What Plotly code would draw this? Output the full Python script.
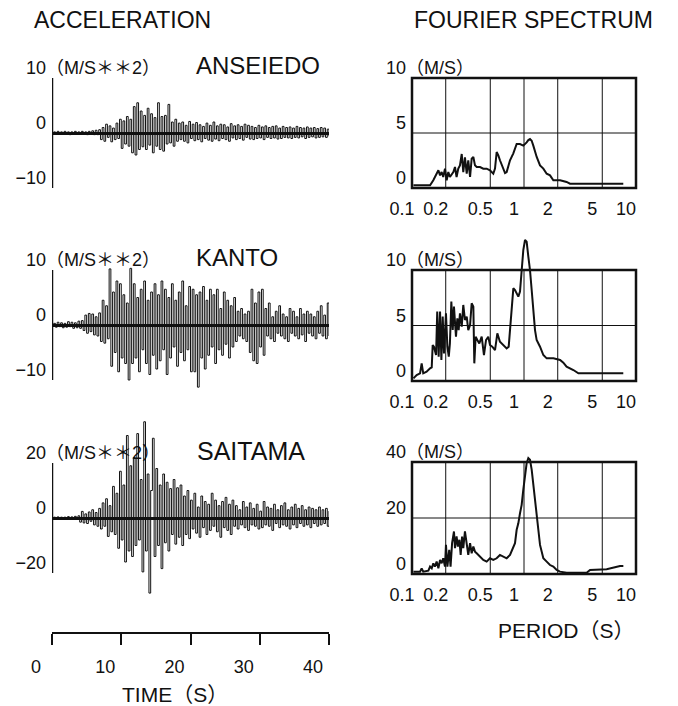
import numpy as np
import plotly.graph_objects as go

W, H = 678, 706
OFF = 8  # the page body has an 8 px margin; positions below are in screen pixels
FONT = "Liberation Sans, Arial, 'Noto Sans CJK JP', sans-serif"
INK = "#111111"

# ---------------- data ----------------
stations = ["ANSEIEDO", "KANTO", "SAITAMA"]
dt = 0.25  # s, sampling step of the digitised records

acc_anseiedo = [
    0.0, 0.2, -0.1, 0.3, -0.2, 0.2, -0.1, 0.3, -0.2, 0.2, -0.3, 0.2, -0.1, 0.3,
    -0.2, 0.2, -0.2, 0.3, -0.1, 0.2, -0.3, 0.3, -0.2, 0.4, -0.3, 0.5, -0.3, 0.6,
    -1.2, 1.0, -1.5, 1.6, -0.8, 1.3, -1.6, 0.9, -1.2, 1.8, -1.0, 2.5, -2.8,
    2.2, -2.0, 3.0, -2.4, 2.5, -3.6, 4.8, -4.0, 5.5, -3.0,
    4.0, -2.5, 3.2, -3.0, 4.5, -2.2, 3.5, -3.6, 2.8, -2.4,
    5.5, -3.0, 3.0, -3.3, 3.2, -2.0, 5.2, -1.8, 2.0, -2.4, 2.5, -1.5,
    1.8, -1.2, 2.0, -1.5, 1.4, -1.8, 2.1, -1.0, 1.6, -1.4,
    1.9, -1.2, 1.5, -1.6, 1.2, -1.0, 1.8, -1.3, 1.4, -1.5,
    2.0, -1.1, 1.3, -1.4, 1.6, -1.0, 1.5, -1.2, 1.1, -1.5,
    1.7, -0.9, 1.3, -1.2, 1.5, -1.0, 1.2, -1.3, 1.6, -0.8,
    1.4, -1.1, 1.2, -1.2, 1.0, -1.0, 1.4, -0.9, 1.1, -1.2,
    1.3, -0.8, 1.0, -1.0, 1.2, -0.9, 1.3, -1.1, 0.9, -1.0,
    1.2, -0.8, 1.0, -0.9, 1.1, -1.0, 0.9, -0.8, 1.2, -0.9,
    1.0, -0.7, 0.9, -1.0, 1.1, -0.8, 0.9, -0.7, 1.0, -0.9,
    0.8, -0.8, 1.0, -0.7, 0.9, -0.8, 0.7, -0.6,
]

acc_kanto = [
    0.0, 0.3, -0.4, 0.5, -0.3, 0.4, -0.5, 0.3, -0.4, 0.6, -0.3, 0.5, -0.6, 0.4,
    -0.5, 0.7, -0.6, 0.8,
    -1.0, 1.8, -1.5, 2.1, -1.2, 2.0, -1.8, 1.5, -2.0, 2.2,
    -3.0, 4.5, -3.3, 3.5, -2.5,
    10.2,
    -7.5, 6.0, -5.0, 8.0, -8.5, 7.5, -6.0, 5.5, -7.0, 4.0, -10.0, 10.3, -7.0,
    7.5, -6.0, 5.0, -8.5, 6.5, -4.5, 8.0, -7.0, 4.5, -9.0, 6.0, -5.5, 7.5, -8.0,
    5.5, -6.5, 8.0, -4.5, 6.5, -9.0, 5.0, -6.0, 7.5, -4.0,
    4.5, -7.5, 6.0, -5.0, 8.0, -6.5, 3.5, -4.5, 7.0, -8.5,
    6.5, -8.5, 5.5, -11.3, 6.0, -6.0, 7.0, -8.0, 4.5, -5.5,
    6.5, -4.0, 5.5, -7.0, 6.5, -4.5, 3.0, -5.5, 6.0, -3.5, 4.5, -6.0, 3.5, -4.0,
    5.0, -3.0, 2.5, -2.0, 3.0, -2.5, 2.0, -3.0,
    2.5, -5.0, 6.5, -6.5, 4.0, -7.0, 6.0, -4.0, 6.5,
    -5.5, 3.0, -2.0, 4.0, -2.5, 1.5, -3.0, 2.5, -1.5, 3.5,
    -2.0, 2.0, -2.5, 1.5, -3.0, 3.0, -1.5, 2.5, -2.0, 1.5,
    -2.5, 3.0, -1.8, 2.0, -3.0, 2.5, -1.5, 2.0, -2.0, 1.5,
    -2.5, 2.5, -1.5, 3.5, -2.0, 1.8, -2.5, 4.0, -2.0,
]

acc_saitama = [
    0.0, 0.3, -0.3, 0.4, -0.2, 0.3, -0.4, 0.3, -0.3, 0.5, -0.3, 0.4, -0.5, 0.6,
    -0.4, 0.8,
    -1.5, 2.4, -1.8, 1.5, -2.0, 2.2, -1.2, 3.0, -2.5, 2.0, -3.0, 3.5,
    -4.0, 5.5, -3.0, 7.0, -6.7, 4.5, -5.0, 11.5, -6.0,
    9.0, -11.0, 17.0, -8.0, 12.0, -16.0, 30.0, -12.0, 19.0, -14.0, 22.0, -10.0,
    30.7, -8.0, 14.0, -19.6, 35.0, -12.0, 16.0, -27.3, 10.0, 29.0, -14.0, 18.0,
    -10.0, 12.0, -18.4, 16.0,
    -9.0, 13.0, -12.0, 10.7, -6.0, 14.0, -9.5, 11.0, -7.0, 12.0, -10.0, 8.0,
    -6.0, 10.0,
    -7.5, 6.5, -4.0, 9.0, -5.5, 4.0, -7.0, 8.0, -3.5, 6.0, -6.0, 5.0, -4.5,
    9.0, -3.0, 6.5, -5.0, 4.5, -7.0, 6.0, -3.5, 7.5, -4.5, 5.0, -6.0, 6.5,
    -3.0, 4.5, -4.0, 3.0, -2.5, 6.0, -3.5, 4.0, -4.5, 5.5,
    -2.5, 3.5, -3.0, 5.0, -4.0, 2.5, -3.5, 6.0, -2.5, 4.0,
    -3.0, 3.5, -4.5, 5.0, -2.0, 3.0, -3.5, 4.5, -2.5, 5.5,
    -3.0, 3.0, -4.0, 4.0, -2.5, 5.0, -3.5, 3.5, -2.0, 4.5,
    -3.0, 3.0, -2.5, 4.0, -3.5, 3.5, -2.0, 3.0, -3.0, 4.0,
    -2.5, 3.0, -2.0, 3.5, -3.0, 2.5,
]

per_anseiedo = [0.103, 0.145, 0.155, 0.166, 0.172, 0.178, 0.184, 0.19, 0.197, 0.204,
                0.211, 0.218, 0.234, 0.242, 0.25, 0.259, 0.268, 0.278, 0.287, 0.297,
                0.308, 0.318, 0.33, 0.341, 0.353, 0.365, 0.378, 0.405, 0.433, 0.464,
                0.497, 0.532, 0.551, 0.57, 0.59, 0.61, 0.632, 0.654, 0.677, 0.70,
                0.725, 0.75, 0.803, 0.86, 0.92, 0.986, 1.056, 1.093, 1.131, 1.171,
                1.211, 1.254, 1.298, 1.39, 1.488, 1.594, 1.707, 1.828, 2.1, 2.4,
                2.575, 4.16, 7.7]
fs_anseiedo = [0.24, 0.24, 0.70, 1.30, 1.61, 1.15, 1.45, 1.00, 1.76, 0.70,
               1.45, 1.00, 1.45, 1.91, 1.00, 1.76, 2.06, 3.09, 1.45, 2.79,
               1.30, 2.52, 1.00, 2.67, 2.82, 2.06, 1.91, 1.91, 1.76, 1.76,
               1.61, 1.30, 1.76, 3.27, 2.97, 2.52, 2.06, 1.76, 1.36, 1.45,
               1.91, 2.52, 3.15, 4.0, 4.0, 3.85, 4.15, 4.36, 4.45, 4.30,
               3.85, 3.27, 2.82, 2.06, 1.76, 1.30, 1.15, 0.70, 0.70, 0.55,
               0.39, 0.39, 0.39]

per_kanto = [0.103, 0.110, 0.118, 0.122, 0.126, 0.135, 0.145, 0.150, 0.153, 0.157,
             0.164, 0.168, 0.173, 0.178, 0.183, 0.188, 0.193, 0.201, 0.207, 0.213,
             0.218, 0.2245, 0.231, 0.237, 0.247, 0.254, 0.261, 0.268, 0.278, 0.287,
             0.297, 0.308, 0.318, 0.33, 0.341, 0.353, 0.360, 0.370, 0.383, 0.399,
             0.419, 0.439, 0.458, 0.480, 0.497, 0.521, 0.551, 0.578, 0.61, 0.654,
             0.70, 0.73, 0.75, 0.776, 0.803, 0.831, 0.86, 0.89, 0.921, 0.953,
             0.986, 1.021, 1.056, 1.093, 1.131, 1.171, 1.211, 1.254, 1.297, 1.39,
             1.488, 1.594, 1.83, 2.10, 2.245, 2.40, 2.76, 3.06, 7.7]
fs_kanto = [0.24, 0.54, 0.69, 1.59, 0.69, 0.84, 1.14, 1.23, 3.24, 3.09,
            2.34, 6.25, 2.19, 6.25, 1.89, 5.80, 2.49, 6.10, 3.09, 2.19,
            3.39, 7.15, 4.59, 6.70, 3.99, 5.65, 4.59, 6.10, 4.89, 6.85,
            5.50, 5.80, 4.59, 5.05, 7.00, 6.70, 1.59, 3.99, 3.69, 3.39,
            3.99, 2.34, 3.69, 3.99, 3.24, 3.09, 2.79, 4.29, 3.54, 3.24,
            2.94, 3.09, 4.59, 6.10, 8.35, 8.20, 7.90, 7.60, 8.05, 9.70,
            11.8, 12.7, 12.55, 11.2, 10.0, 8.20, 6.40, 4.59, 3.69, 3.09,
            2.34, 2.04, 2.04, 1.89, 1.65, 1.29, 0.99, 0.69, 0.69]

per_saitama = [0.103, 0.118, 0.122, 0.126, 0.140, 0.145, 0.150, 0.155, 0.160, 0.166,
               0.172, 0.178, 0.184, 0.19, 0.197, 0.201, 0.207, 0.215, 0.221, 0.228,
               0.237, 0.242, 0.25, 0.257, 0.265, 0.272, 0.28, 0.287, 0.297, 0.308,
               0.318, 0.33, 0.341, 0.353, 0.365, 0.378, 0.391, 0.405, 0.433, 0.464,
               0.497, 0.532, 0.57, 0.61, 0.654, 0.70, 0.75, 0.803, 0.831, 0.86,
               0.89, 0.921, 0.953, 0.986, 1.021, 1.056, 1.093, 1.131, 1.171, 1.211,
               1.254, 1.297, 1.343, 1.39, 1.438, 1.488, 1.594, 1.707, 1.828, 1.957,
               2.096, 2.404, 3.626, 3.885, 5.47, 6.28, 7.20, 7.71]
fs_saitama = [0.84, 0.84, 2.03, 0.84, 1.19, 2.63, 2.03, 3.82, 2.63, 4.42,
              2.03, 5.01, 3.82, 5.61, 2.63, 10.4, 2.63, 8.6, 2.63, 11.0,
              15.2, 9.2, 13.4, 9.8, 12.2, 6.8, 13.4, 9.2, 15.2, 11.0,
              6.8, 11.0, 7.4, 9.8, 8.0, 7.4, 6.8, 6.2, 5.01, 4.42,
              5.61, 5.01, 5.61, 6.8, 6.2, 5.61, 6.8, 9.2, 11.0, 15.8,
              18.1, 21.7, 24.7, 30.1, 36.1, 39.6, 41.4, 40.8, 37.3, 32.5,
              27.7, 21.7, 15.8, 10.4, 7.4, 5.61, 4.42, 3.2, 2.63, 1.43,
              0.84, 0.48, 0.48, 1.43, 1.67, 2.39, 2.87, 2.87]

acc_ticks = [[-10, 0, 10], [-10, 0, 10], [-20, 0, 20]]
acc_ticktext = [["\u221210", "0", "10"], ["\u221210", "0", "10"], ["\u221220", "0", "20"]]
acc_unit = "\uff08M/S\uff0a\uff0a2\uff09"
fs_ticks = [[0, 5, 10], [0, 5, 10], [0, 20, 40]]
fs_ticktext = [["0", "5", "10"], ["0", "5", "10"], ["0", "20", "40"]]
fs_unit = "\uff08M/S\uff09"
time_ticks = [0, 10, 20, 30, 40]
period_ticks = [0.1, 0.2, 0.5, 1, 2, 5, 10]
period_ticktext = ["0.1", "0.2", "0.5", "1", "2", "5", "10"]
period_grid = [0.2, 0.5, 1, 2, 5]

acc_series = [acc_anseiedo, acc_kanto, acc_saitama]
fs_series = [(per_anseiedo, fs_anseiedo), (per_kanto, fs_kanto), (per_saitama, fs_saitama)]

# ---------------- layout geometry (screen pixels) ----------------
def py(p):
    return 1 - (p - OFF) / H

def pxx(p):
    return (p - OFF) / W

left_x = [52, 329]
right_x = [412, 636]
acc_base = [133, 325, 518]          # pixel of zero line
acc_half = [70, 70, 105]            # half-height of plotting area
acc_ppu = [5.5, 5.5, 2.75]          # pixels per unit
fs_box = [(78, 188), (270, 381), (462, 574)]
fs_dom = [(70, 196), (230, 389), (448, 582)]
time_axis_y = 633

fig = go.Figure()
layout = dict(
    width=W, height=H, margin=dict(l=0, r=0, t=0, b=0, autoexpand=False),
    paper_bgcolor="white", plot_bgcolor="rgba(0,0,0,0)",
    showlegend=False, font=dict(family=FONT, color=INK, size=18),
)
shapes = []
annotations = []

for i in range(3):
    xa = "x" if i == 0 else f"x{i+1}"
    ya = "y" if i == 0 else f"y{i+1}"
    vals = acc_series[i]
    t = np.arange(len(vals)) * dt
    fig.add_trace(go.Scatter(x=t, y=vals, mode="lines", line_shape="hv",
                             line=dict(color=INK, width=1), xaxis=xa, yaxis=ya,
                             hoverinfo="skip"))
    A = acc_half[i] / acc_ppu[i]
    xkey = "xaxis" if i == 0 else f"xaxis{i+1}"
    ykey = "yaxis" if i == 0 else f"yaxis{i+1}"
    xa_cfg = dict(domain=[pxx(left_x[0]), pxx(left_x[1])], range=[0, 40],
                  showgrid=False, zeroline=False, automargin=False)
    if i < 2:
        xa_cfg.update(visible=False, anchor=ya)
    else:
        xa_cfg.update(anchor="free", position=py(time_axis_y), showline=True,
                      linewidth=2, linecolor=INK, ticks="outside", ticklen=11,
                      tickwidth=1.5, tickcolor=INK, tickvals=time_ticks,
                      ticklabelshift=-16, ticklabelstandoff=6,
                      tickfont=dict(size=18))
    layout[xkey] = xa_cfg
    # lower ticks as axis labels, the top one is written together with the unit
    layout[ykey] = dict(
        domain=[py(acc_base[i] + acc_half[i]), py(acc_base[i] - acc_half[i])],
        range=[-A, A], anchor=xa, showgrid=False, zeroline=True,
        zerolinewidth=3, zerolinecolor=INK, showline=False, ticks="",
        tickvals=acc_ticks[i][:-1], ticktext=acc_ticktext[i][:-1], ticklabelshift=-10,
        ticklabelstandoff=5, tickfont=dict(size=18), automargin=False,
    )
    amax = acc_ticks[i][-1]
    shapes.append(dict(type="line", xref=xa, yref=ya, x0=0, x1=0, y0=-amax, y1=amax,
                       line=dict(color=INK, width=2.5), layer="above"))
    annotations.append(dict(text=acc_ticktext[i][-1] + acc_unit, xref="paper", yref=ya,
                            x=pxx(24), y=amax, yshift=10, xanchor="left",
                            yanchor="middle", showarrow=False, font=dict(size=18)))

# spectra
for i in range(3):
    n = i + 4
    xa, ya = f"x{n}", f"y{n}"
    per, amp = fs_series[i]
    fig.add_trace(go.Scatter(x=per, y=amp, mode="lines",
                             line=dict(color=INK, width=2), xaxis=xa, yaxis=ya,
                             hoverinfo="skip"))
    top, bot = fs_box[i]
    dtop, dbot = fs_dom[i]
    ymax = fs_ticks[i][-1]
    ppu = (bot - top) / ymax
    layout[f"xaxis{n}"] = dict(
        type="log", domain=[pxx(right_x[0]), pxx(right_x[1])], range=[-1, 1],
        anchor="free", position=py(bot), showgrid=False, zeroline=False,
        showline=False, ticks="", tickvals=period_ticks, ticktext=period_ticktext,
        ticklabelshift=-10, ticklabelstandoff=8, tickfont=dict(size=18),
        automargin=False)
    layout[f"yaxis{n}"] = dict(
        domain=[py(dbot), py(dtop)], range=[(bot - dbot) / ppu, (bot - dtop) / ppu],
        anchor=xa, showgrid=False, zeroline=False, showline=False, ticks="",
        tickvals=fs_ticks[i][:-1], ticktext=fs_ticktext[i][:-1], ticklabelshift=-10,
        ticklabelstandoff=5, tickfont=dict(size=18), automargin=False)
    for g in period_grid:
        shapes.append(dict(type="line", xref=xa, yref=ya, x0=g, x1=g, y0=0, y1=ymax,
                           line=dict(color=INK, width=1), layer="below"))
    shapes.append(dict(type="line", xref=f"{xa} domain", yref=ya, x0=0, x1=1,
                       y0=fs_ticks[i][1], y1=fs_ticks[i][1],
                       line=dict(color=INK, width=1), layer="below"))
    shapes.append(dict(type="rect", xref=f"{xa} domain", yref=ya, x0=0, x1=1,
                       y0=0, y1=ymax, line=dict(color=INK, width=2.5), layer="above"))
    annotations.append(dict(text=fs_ticktext[i][-1] + fs_unit, xref="paper", yref=ya,
                            x=pxx(384), y=ymax, yshift=10, xanchor="left",
                            yanchor="middle", showarrow=False, font=dict(size=18)))

# titles
title_specs = [
    ("ACCELERATION", 122, 20, 23),
    ("FOURIER SPECTRUM", 533, 20, 23),
    ("ANSEIEDO", 258, 65, 24),
    ("KANTO", 237, 258, 24),
    ("SAITAMA", 251, 451, 25),
    ("TIME\uff08S\uff09", 175, 694, 21),
    ("PERIOD\uff08S\uff09", 566, 630, 21),
]
for txt, x, y, s in title_specs:
    annotations.append(dict(text=txt, xref="paper", yref="paper", x=pxx(x), y=py(y),
                            xanchor="center", yanchor="middle", showarrow=False,
                            font=dict(size=s)))

layout["shapes"] = shapes
layout["annotations"] = annotations
fig.update_layout(**layout)
fig.write_html("out.html")
